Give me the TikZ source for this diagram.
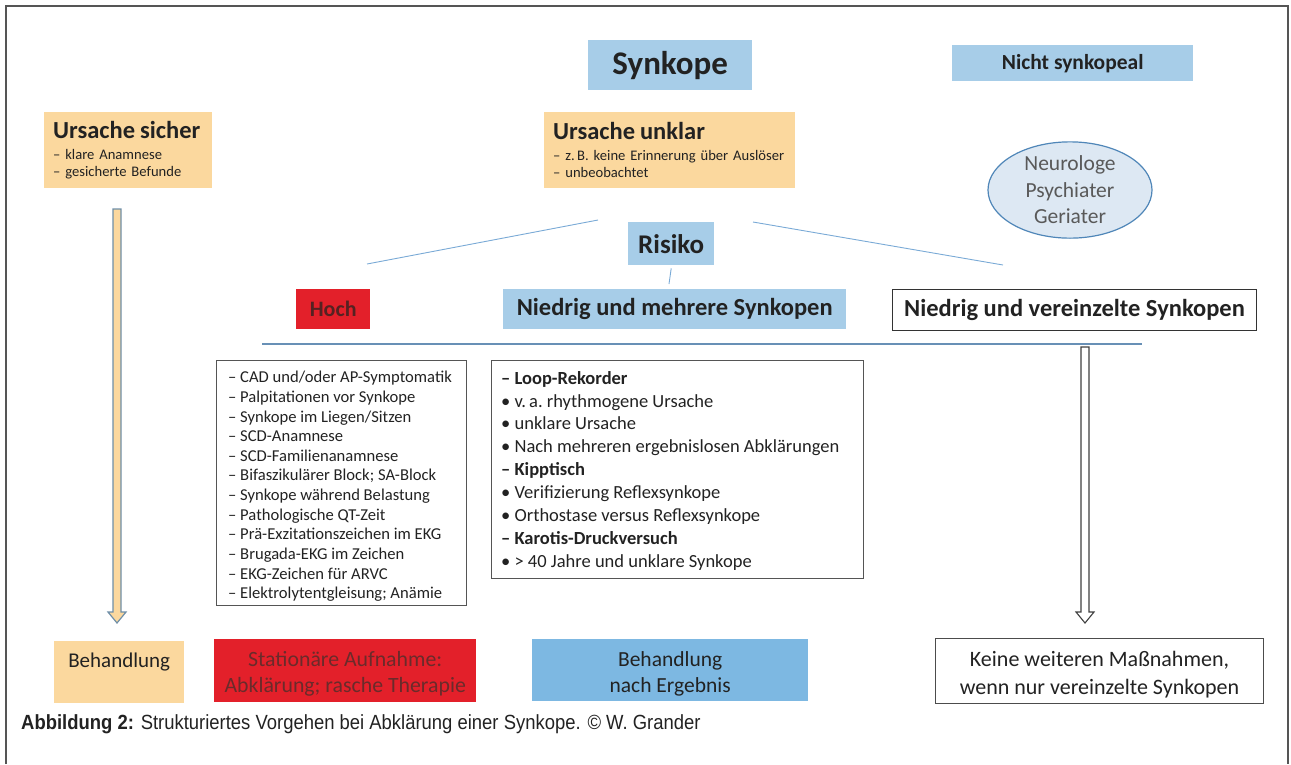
\documentclass[tikz,border=0pt]{standalone}
\usepackage{fontspec}
\setmainfont{Carlito}
\newfontfamily\capfont[FakeStretch=0.9]{Liberation Sans}
\usetikzlibrary{calc,shapes.geometric}
\definecolor{orangebox}{HTML}{FBD89E}
\definecolor{lightblue}{HTML}{A7CDE8}
\definecolor{midblue}{HTML}{7DB8E2}
\definecolor{redbox}{HTML}{E3202A}
\definecolor{lineblue}{HTML}{7AAAD6}
\definecolor{ellfill}{HTML}{DDE8F3}
\definecolor{ellline}{HTML}{4F86B8}
\definecolor{txt}{HTML}{222222}
\definecolor{frame}{HTML}{555555}
\definecolor{redtxt}{HTML}{6A2B2B}
\definecolor{arrline}{HTML}{6F8FA8}
\newcommand\fsz[2]{\fontsize{#1}{#2}\selectfont}
\begin{document}
\begin{tikzpicture}[x=1pt,y=-1pt,
  box/.style={anchor=north west, inner sep=0pt, align=center, text=txt},
  bluebox/.style={box, fill=lightblue},
  orangeb/.style={box, fill=orangebox},
  listbox/.style={anchor=north west, draw=frame, line width=1pt, inner sep=0pt},
  listtext/.style={anchor=north west, inner sep=0pt, align=left, text=txt},
  boxtext/.style={inner sep=0pt, align=center, text=txt},
  thinline/.style={draw=lineblue, line width=0.9pt},
]
\useasboundingbox (0,0) rectangle (1291,764);
% frame
\draw[frame, line width=2pt] (6,764) -- (6,6) -- (1288,6) -- (1288,764);

% top row
\node[bluebox, minimum width=164pt, minimum height=50pt, font=\fsz{33}{40}\bfseries] (synk) at (588,40) {Synkope};
\node[bluebox, minimum width=241pt, minimum height=36pt, font=\fsz{21.5}{24}\bfseries] (nicht) at (952,45) {Nicht synkopeal};

% second row
\node[orangeb, minimum width=168pt, minimum height=76pt, text width=150pt, align=left, inner xsep=9pt, font=\fsz{14.6}{17}] (sicher) at (44,112)
  {{\fsz{24.5}{26}\bfseries Ursache sicher}\\[4pt]– klare Anamnese\\– gesicherte Befunde};
\node[orangeb, minimum width=251pt, minimum height=76pt, text width=233pt, align=left, inner xsep=9pt, font=\fsz{14.6}{17}] (unklar) at (544,112)
  {{\fsz{24.5}{26}\bfseries Ursache unklar}\\[4pt]– z.\,B. keine Erinnerung über Auslöser\\– unbeobachtet};
\node[ellipse, draw=ellline, line width=1.2pt, fill=ellfill, minimum width=164pt, minimum height=96pt, inner sep=0pt, align=center, text=black!65, font=\fsz{21.5}{26.5}]
  (neuro) at (1070,190) {Neurologe\\Psychiater\\Geriater};

% Risiko
\node[bluebox, minimum width=86pt, minimum height=43pt, font=\fsz{27}{30}\bfseries] (risiko) at (628,222) {Risiko};
\coordinate (dl1) at (598,220); \coordinate (dl2) at (367,264);
\coordinate (dr1) at (753,222); \coordinate (dr2) at (1003,265);
\draw[thinline] (dl1) -- (dl2);
\draw[thinline] (dr1) -- (dr2);
\coordinate (rv) at (669,284);
\draw[thinline] ($(risiko.south)+(0,3)$) -- (rv);

% risk row
\node[box, fill=redbox, minimum width=74pt, minimum height=40pt, text=redtxt!80!black, font=\fsz{22}{24}\bfseries] (hoch) at (296,289) {Hoch};
\node[bluebox, minimum width=343pt, minimum height=40pt, font=\fsz{24.5}{26}\bfseries] (mehr) at (503,289) {Niedrig und mehrere Synkopen};
\node[box, draw=black!80, line width=1pt, fill=white, minimum width=364pt, minimum height=41pt, font=\fsz{24.5}{26}\bfseries] (verein) at (892,289) {Niedrig und vereinzelte Synkopen};
\coordinate (hl1) at (262,344); \coordinate (hl2) at (1142,344);
\draw[draw=lineblue!85!black, line width=1.1pt] (hl1) -- (hl2);

% lists
\node[listbox, minimum width=250pt, minimum height=245pt] (liste1) at (216,360) {};
\node[listtext, font=\fsz{16.6}{19.65}] (liste1txt) at ($(liste1.north west)+(12,11)$)
{– CAD und/oder AP-Symptomatik\\
– Palpitationen vor Synkope\\
– Synkope im Liegen/Sitzen\\
– SCD-Anamnese\\
– SCD-Familienanamnese\\
– Bifaszikulärer Block; SA-Block\\
– Synkope während Belastung\\
– Pathologische QT-Zeit\\
– Prä-Exzitationszeichen im EKG\\
– Brugada-EKG im Zeichen\\
– EKG-Zeichen für ARVC\\
– Elektrolytentgleisung; Anämie};
\node[listbox, minimum width=372pt, minimum height=218pt] (liste2) at (491,360) {};
\node[listtext, font=\fsz{18.5}{22.9}] (liste2txt) at ($(liste2.north west)+(10,11)$)
{{\bfseries – Loop-Rekorder}\\
• v.\,a.\ rhythmogene Ursache\\
• unklare Ursache\\
• Nach mehreren ergebnislosen Abklärungen\\
{\bfseries – Kipptisch}\\
• Verifizierung Reflexsynkope\\
• Orthostase versus Reflexsynkope\\
{\bfseries – Karotis-Druckversuch}\\
• > 40 Jahre und unklare Synkope};

% bottom row
\node[orangeb, minimum width=130pt, minimum height=62pt] (beh) at (54,641) {};
\node[boxtext, font=\fsz{21}{24}] (behtxt) at ($(beh.north)+(0,21)$) {Behandlung};
\node[box, fill=redbox, minimum width=262pt, minimum height=63pt] (stat) at (214,639) {};
\node[boxtext, text=redtxt, font=\fsz{21.8}{25.5}] (stattxt) at ($(stat.center)+(0,3)$) {Stationäre Aufnahme:\\Abklärung; rasche Therapie};
\node[box, fill=midblue, minimum width=276pt, minimum height=62pt] (ergeb) at (532,639) {};
\node[boxtext, font=\fsz{21.5}{26}] (ergebtxt) at ($(ergeb.center)+(0,4)$) {Behandlung\\nach Ergebnis};
\node[box, draw=black!70, line width=1pt, fill=white, minimum width=328pt, minimum height=65pt] (keine) at (935,638) {};
\node[boxtext, font=\fsz{22}{28}] (keinetxt) at ($(keine.center)+(0,4)$) {Keine weiteren Maßnahmen,\\wenn nur vereinzelte Synkopen};

% arrows
\coordinate (la1) at (117,209); \coordinate (la2) at (117,623);
\draw[draw=arrline, fill=orangebox, line width=1.2pt, line join=miter]
  ($(la1)+(-4,0)$) -- ($(la1)+(4,0)$) -- ($(la2)+(4,-11)$) -- ($(la2)+(9,-11)$) -- (la2)
  -- ($(la2)+(-9,-11)$) -- ($(la2)+(-4,-11)$) -- cycle;
\coordinate (ra1) at (1085,347); \coordinate (ra2) at (1085,623);
\draw[draw=black!75, fill=white, line width=1.1pt, line join=miter]
  ($(ra1)+(-4,0)$) -- ($(ra1)+(4,0)$) -- ($(ra2)+(4,-11)$) -- ($(ra2)+(9,-11)$) -- (ra2)
  -- ($(ra2)+(-9,-11)$) -- ($(ra2)+(-4,-11)$) -- cycle;

% caption
\node[anchor=west, inner sep=0pt, text=txt, font=\capfont\fsz{20.5}{24}] (cap) at (21,724) {\textbf{Abbildung 2:} Strukturiertes Vorgehen bei Abklärung einer Synkope. © W. Grander};
\end{tikzpicture}
\end{document}
